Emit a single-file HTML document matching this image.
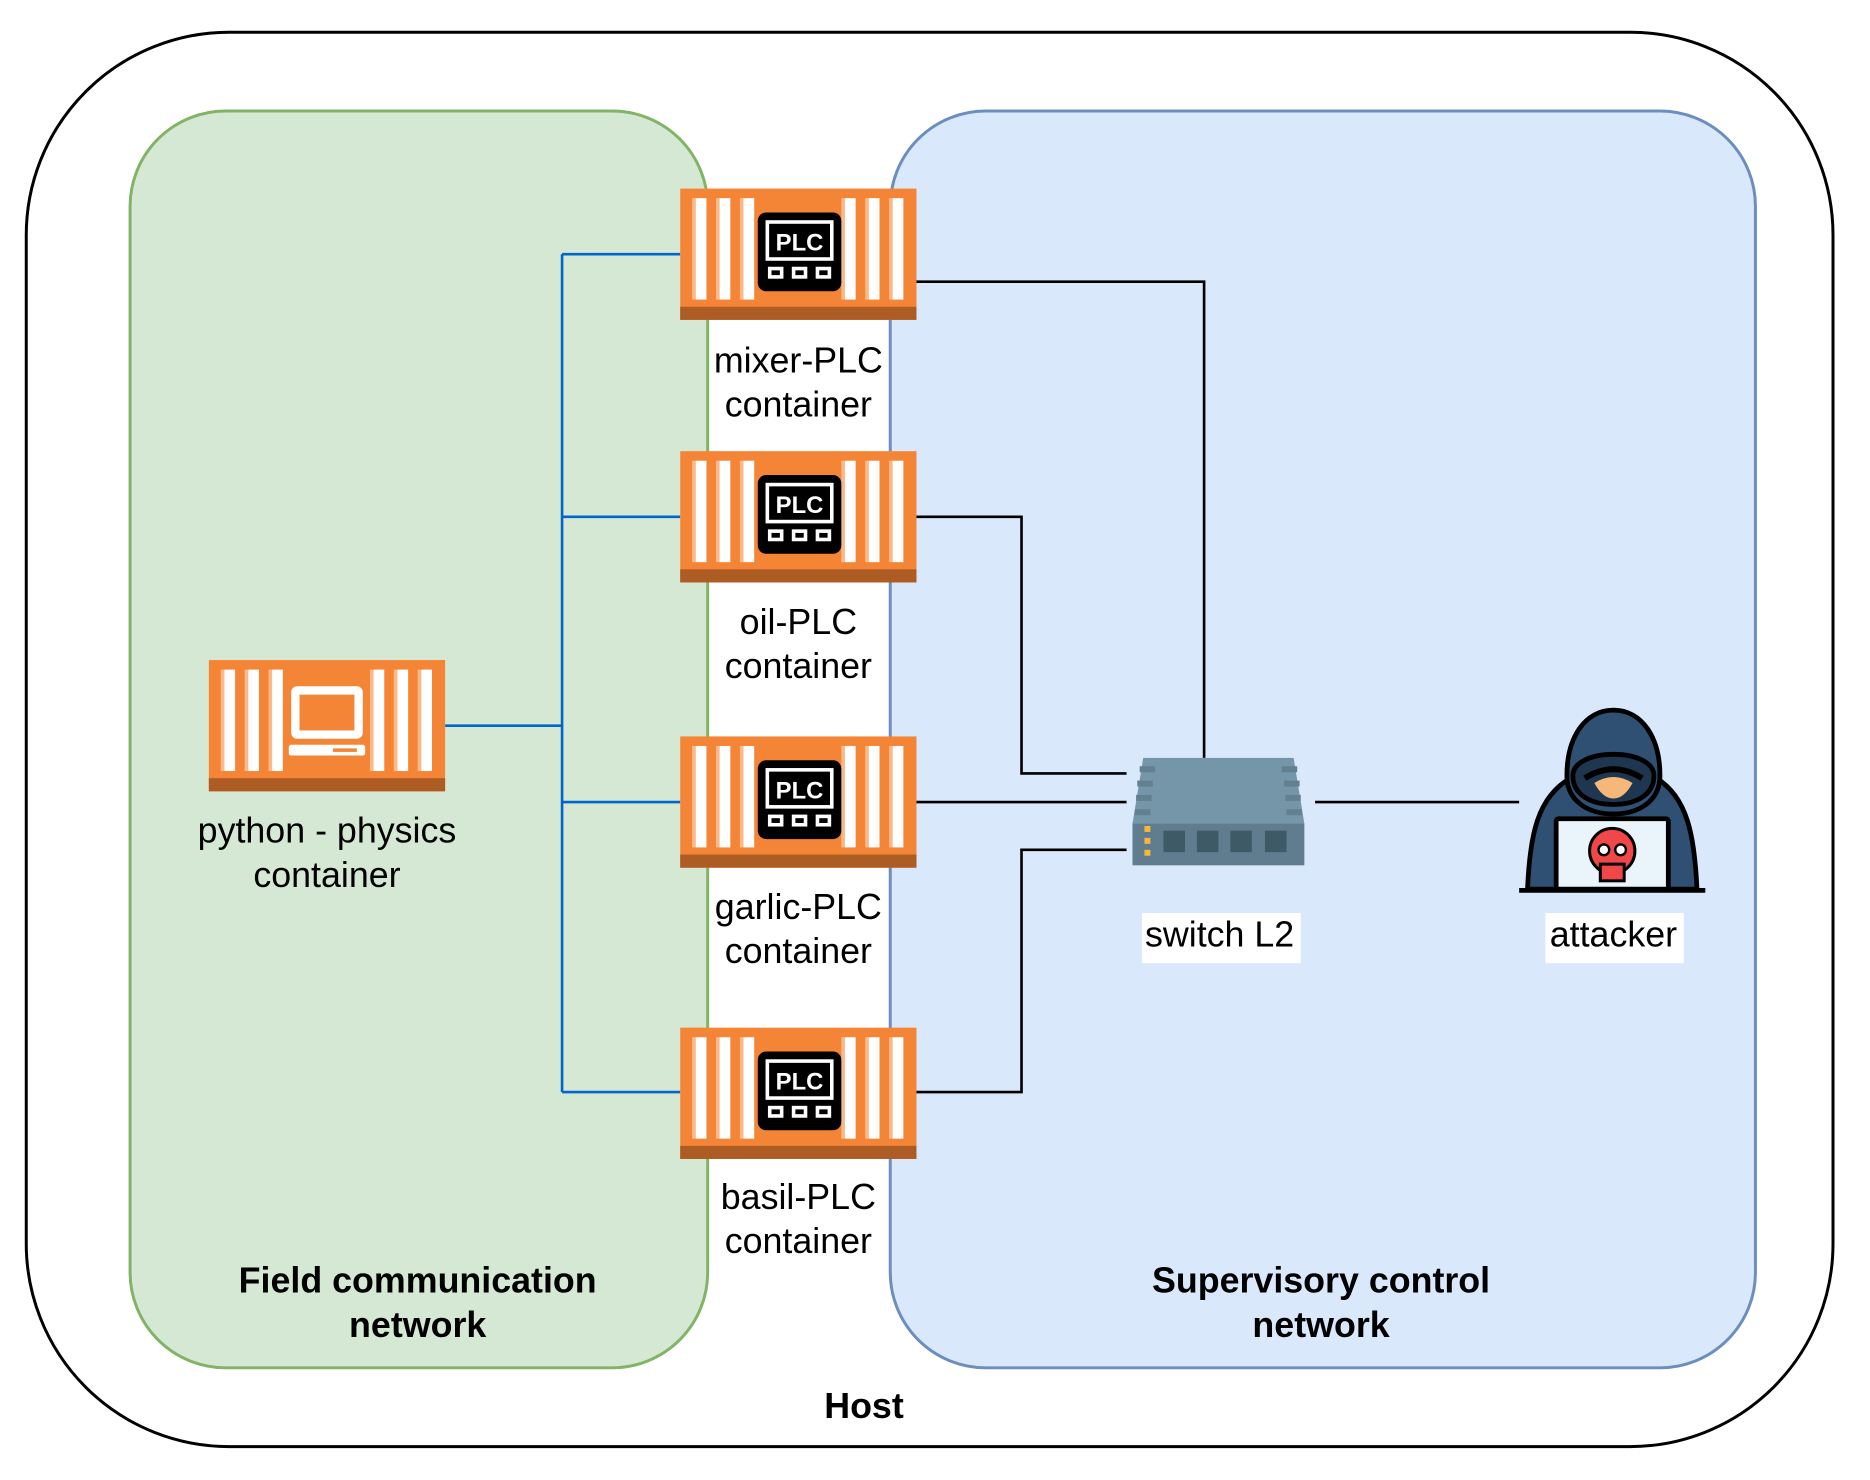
<!DOCTYPE html>
<html><head><meta charset="utf-8"><style>
html,body{margin:0;padding:0;background:#fff;}
svg{display:block;}
text{font-family:"Liberation Sans",Arial,sans-serif;}
</style></head><body>
<svg width="1870" height="1480" viewBox="0 0 1567 1240" preserveAspectRatio="none" xmlns="http://www.w3.org/2000/svg">
<defs>
<g id="cont">
  <rect x="0" y="0" width="198" height="110" fill="#f58536"/>
  <rect x="0" y="99" width="198" height="11" fill="#ad5c24"/>
  <g fill="#f9b98a">
    <rect x="10" y="8" width="3" height="85"/><rect x="30" y="8" width="3" height="85"/><rect x="50" y="8" width="3" height="85"/>
    <rect x="135" y="8" width="3" height="85"/><rect x="155" y="8" width="3" height="85"/><rect x="175" y="8" width="3" height="85"/>
  </g>
  <g fill="#fff">
    <rect x="13" y="8" width="9" height="85"/><rect x="33" y="8" width="9" height="85"/><rect x="53" y="8" width="9" height="85"/>
    <rect x="138" y="8" width="9" height="85"/><rect x="158" y="8" width="9" height="85"/><rect x="178" y="8" width="9" height="85"/>
  </g>
</g>
<g id="plc">
  <use href="#cont"/>
  <rect x="65" y="20" width="70" height="66" rx="7" fill="#000"/>
  <rect x="73" y="28" width="54" height="31" fill="none" stroke="#fff" stroke-width="3"/>
  <text x="100" y="52" font-size="20" font-weight="bold" fill="#fff" text-anchor="middle">PLC</text>
  <g fill="none" stroke="#fff" stroke-width="3">
    <rect x="75" y="67" width="10" height="7"/><rect x="95" y="67" width="10" height="7"/><rect x="115" y="67" width="10" height="7"/>
  </g>
</g>
</defs>

<rect x="22" y="27" width="1514" height="1185" rx="170" fill="#fff" stroke="#000" stroke-width="2.5"/>
<rect x="109" y="93" width="484" height="1053" rx="80" fill="#d5e8d4" stroke="#82b366" stroke-width="2.5"/>
<rect x="746" y="93" width="725" height="1053" rx="80" fill="#dae8fc" stroke="#6c8ebf" stroke-width="2.5"/>

<g stroke="#0066cc" stroke-width="2.2" fill="none">
  <path d="M471 213 V915"/>
  <path d="M471 213 H570 M471 433 H570 M471 672 H570 M471 915 H570 M373 608 H471"/>
</g>
<g stroke="#000" stroke-width="2.2" fill="none">
  <path d="M768 236 H1009 V635"/>
  <path d="M768 433 H856 V648 H944"/>
  <path d="M768 672 H944"/>
  <path d="M768 915 H856 V712 H944"/>
  <path d="M1102 672 H1273"/>
</g>

<use href="#plc" x="570" y="158"/>
<use href="#plc" x="570" y="378"/>
<use href="#plc" x="570" y="617"/>
<use href="#plc" x="570" y="861"/>

<use href="#cont" x="175" y="553"/>
<g transform="translate(175,553)">
  <rect x="69" y="22" width="60" height="44" rx="5" fill="#fff"/>
  <rect x="76" y="29" width="46" height="30" fill="#f58536"/>
  <rect x="67" y="71" width="64" height="9" rx="2" fill="#fff"/>
  <rect x="104" y="74" width="20" height="3" fill="#f58536"/>
</g>

<g>
  <polygon points="958,635 1084,635 1093,690 949,690" fill="#7596a8"/>
  <rect x="949" y="690" width="144" height="35" fill="#5f7d8e"/>
  <g fill="#62808f">
    <rect x="955" y="642" width="13" height="5"/><rect x="953" y="654" width="13" height="5"/><rect x="952" y="666" width="13" height="5"/><rect x="951" y="678" width="13" height="5"/>
    <rect x="1074" y="642" width="13" height="5"/><rect x="1076" y="654" width="13" height="5"/><rect x="1077" y="666" width="13" height="5"/><rect x="1078" y="678" width="13" height="5"/>
  </g>
  <g fill="#3d5a66">
    <rect x="975" y="696" width="18" height="18"/><rect x="1003" y="696" width="18" height="18"/><rect x="1031" y="696" width="18" height="18"/><rect x="1060" y="696" width="18" height="18"/>
  </g>
  <g fill="#f5b83a"><rect x="959" y="692" width="5" height="5"/><rect x="959" y="702" width="5" height="5"/><rect x="959" y="712" width="5" height="5"/></g>
</g>

<g stroke="#000" stroke-width="4" stroke-linejoin="round">
  <path d="M1280 745 C1282 700 1288 668 1316 652 L1388 652 C1414 668 1420 700 1422 745 Z" fill="#2f5072"/>
  <path d="M1313 650 C1313 618 1328 595 1352 595 C1376 595 1391 618 1391 650 C1391 672 1372 682 1352 682 C1332 682 1313 672 1313 650 Z" fill="#2f5072"/>
  <path d="M1318 650 C1318 639 1333 632 1352 632 C1371 632 1386 639 1386 650 C1386 666 1371 674 1352 674 C1333 674 1318 666 1318 650 Z" fill="#1e3650"/>
  <rect x="1304" y="686" width="94" height="59" rx="2" fill="#eaf4fb"/>
  <line x1="1273" y1="746" x2="1429" y2="746"/>
</g>
<path d="M1336 656 Q1352 646 1368 656 Q1361 669 1352 669 Q1343 669 1336 656 Z" fill="#f5b87a"/>
<path d="M1328 652 Q1352 637 1376 652" stroke="#000" stroke-width="5" fill="none"/>
<g>
  <ellipse cx="1351" cy="713" rx="19" ry="19" fill="#f04848" stroke="#000" stroke-width="2.5"/>
  <rect x="1341" y="724" width="20" height="14" fill="#f04848" stroke="#000" stroke-width="2.5"/>
  <circle cx="1344" cy="712" r="4.5" fill="#fff" stroke="#000" stroke-width="2"/>
  <circle cx="1358" cy="712" r="4.5" fill="#fff" stroke="#000" stroke-width="2"/>
</g>

<g font-size="30" fill="#000" text-anchor="middle">
  <text x="669" y="312">mixer-PLC</text><text x="669" y="349">container</text>
  <text x="669" y="531">oil-PLC</text><text x="669" y="568">container</text>
  <text x="669" y="770">garlic-PLC</text><text x="669" y="807">container</text>
  <text x="669" y="1013">basil-PLC</text><text x="669" y="1050">container</text>
  <text x="274" y="706">python - physics</text><text x="274" y="743">container</text>
  <rect x="957" y="765" width="133" height="42" fill="#fff"/>
  <text x="1022" y="793">switch L2</text>
  <rect x="1295" y="765" width="116" height="42" fill="#fff"/>
  <text x="1352" y="793">attacker</text>
</g>
<g font-size="30" font-weight="bold" fill="#000" text-anchor="middle">
  <text x="350" y="1083">Field communication</text><text x="350" y="1120">network</text>
  <text x="1107" y="1083">Supervisory control</text><text x="1107" y="1120">network</text>
  <text x="724" y="1188">Host</text>
</g>
</svg>
</body></html>
